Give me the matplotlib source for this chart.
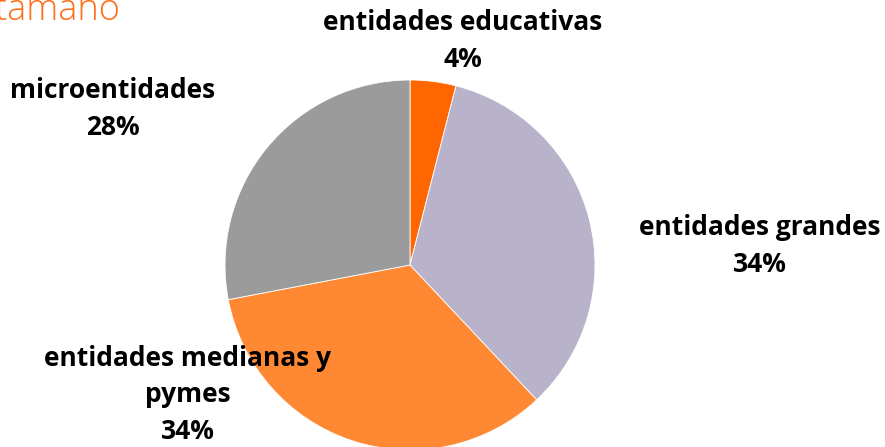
import matplotlib
matplotlib.use("Agg")
import matplotlib.pyplot as plt

categories = ["entidades educativas", "entidades grandes",
              "entidades medianas y\npymes", "microentidades"]
shares = [4, 34, 34, 28]
colours = ["#FF6600", "#B8B3CB", "#FF8833", "#9B9B9B"]

W, H = 885, 447
fig = plt.figure(figsize=(W / 100, H / 100), dpi=100)
ax = fig.add_axes([0, 0, 1, 1])

ax.pie(shares, colors=colours, startangle=90, counterclock=False,
       center=(410, H - 265), radius=185,
       wedgeprops=dict(linewidth=0.6, edgecolor="white"))
# pie resets the limits, so set the pixel frame afterwards
ax.set_xlim(0, W)
ax.set_ylim(0, H)
ax.set_aspect("equal")
ax.axis("off")

# label centres (pixels from top-left)
label_pos = [(463, 41), (760, 246), (188, 395), (113, 109)]
for name, pct, (x, y) in zip(categories, shares, label_pos):
    ax.text(x, H - y, f"{name}\n{pct}%", ha="center", va="center",
            fontsize=19, fontweight="bold", family="Open Sans",
            linespacing=1.45, color="black")

ax.text(120, H - 20, "Distribución por tamaño", ha="right", va="baseline",
        fontsize=26, fontweight="light", family="Open Sans", color="#FF6F1A")

fig.savefig("out.png", dpi=100)
